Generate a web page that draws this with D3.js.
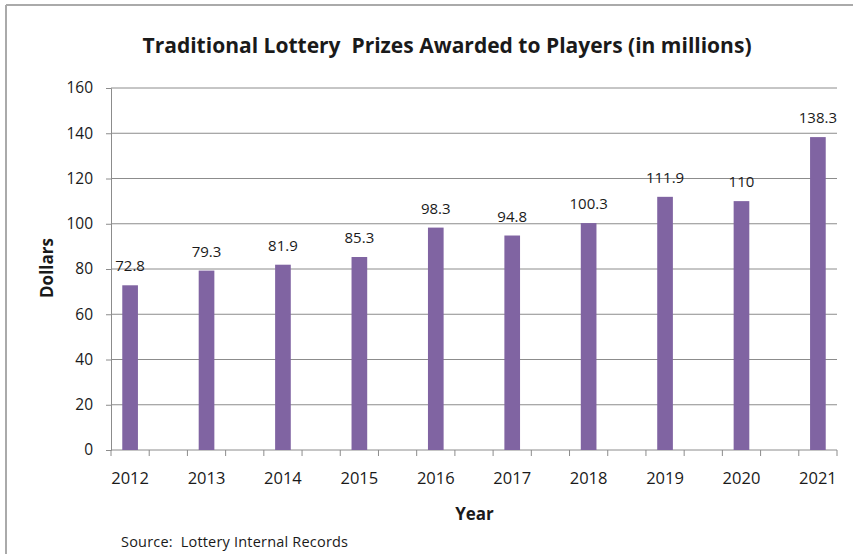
<!DOCTYPE html>
<html>
<head>
<meta charset="utf-8">
<script src="https://cdn.jsdelivr.net/npm/d3@7"></script>
<style>
  html, body { margin: 0; padding: 0; background: #fff; }
  svg { display: block; }
  text { font-family: "Open Sans", sans-serif; fill: #1a1a1a; white-space: pre; }
</style>
</head>
<body>
<svg id="chart" width="853" height="554"></svg>
<script>
// Prize totals per year, in millions of dollars
const years = ["2012", "2013", "2014", "2015", "2016", "2017", "2018", "2019", "2020", "2021"];
const prizes = [72.8, 79.3, 81.9, 85.3, 98.3, 94.8, 100.3, 111.9, 110, 138.3];
const valueLabels = ["72.8", "79.3", "81.9", "85.3", "98.3", "94.8", "100.3", "111.9", "110", "138.3"];
const yTicks = [0, 20, 40, 60, 80, 100, 120, 140, 160];

const title = "Traditional Lottery  Prizes Awarded to Players (in millions)";
const yTitle = "Dollars";
const xTitle = "Year";
const source = "Source:  Lottery Internal Records";

const svg = d3.select("#chart");
const W = 853, H = 554;
const plot = { left: 111, right: 837, top: 88, bottom: 450 };

// outer frame (top and left edges visible)
svg.append("line").attr("x1", 6).attr("x2", W).attr("y1", 5).attr("y2", 5)
  .attr("stroke", "#aaaaaa").attr("stroke-width", 2);
svg.append("line").attr("x1", 6).attr("x2", 6).attr("y1", 5).attr("y2", H)
  .attr("stroke", "#aaaaaa").attr("stroke-width", 2);

// each year occupies two slots; the axis ticks mark every slot edge
const slots = d3.range(years.length * 2 - 1);
const x = d3.scaleBand().domain(slots).range([plot.left, plot.right]).paddingInner(0).paddingOuter(0);
const slotOf = i => i * 2;
const y = d3.scaleLinear().domain([0, 160]).range([plot.bottom, plot.top]);

const barW = x.bandwidth() * 0.41;

// horizontal gridlines
svg.append("g").selectAll("line").data(yTicks.filter(t => t > 0)).join("line")
  .attr("x1", plot.left).attr("x2", plot.right)
  .attr("y1", d => y(d)).attr("y2", d => y(d))
  .attr("stroke", "#8c8c8c").attr("stroke-width", 1);

// y axis
const yAxis = svg.append("g").attr("transform", `translate(${plot.left},0)`)
  .call(d3.axisLeft(y).tickValues(yTicks).tickSize(5).tickPadding(13).tickFormat(d3.format("d")));
yAxis.select(".domain").attr("stroke", "#8c8c8c");
yAxis.selectAll(".tick line").attr("stroke", "#8c8c8c");
yAxis.selectAll("text").attr("font-size", 15.5).attr("fill", "#1a1a1a")
  .attr("font-family", "Open Sans, sans-serif");

// x axis: ticks at every slot boundary, labels under the bars
const edges = d3.range(slots.length + 1).map(k => plot.left + k * x.step());
const xg = svg.append("g");
xg.append("line").attr("x1", plot.left).attr("x2", plot.right)
  .attr("y1", plot.bottom).attr("y2", plot.bottom).attr("stroke", "#8c8c8c");
xg.selectAll("line.tk").data(edges).join("line").attr("class", "tk")
  .attr("x1", d => d).attr("x2", d => d)
  .attr("y1", plot.bottom).attr("y2", plot.bottom + 6).attr("stroke", "#8c8c8c");
xg.selectAll("text").data(years).join("text")
  .attr("x", (d, i) => x(slotOf(i)) + x.bandwidth() / 2)
  .attr("y", 484)
  .attr("text-anchor", "middle").attr("font-size", 16.5)
  .text(d => d);

// bars
svg.append("g").selectAll("rect").data(prizes).join("rect")
  .attr("x", (d, i) => x(slotOf(i)) + x.bandwidth() / 2 - barW / 2)
  .attr("width", barW)
  .attr("y", d => y(d))
  .attr("height", d => y(0) - y(d))
  .attr("fill", "#8064a2");

// value labels
svg.append("g").selectAll("text").data(prizes).join("text")
  .attr("x", (d, i) => x(slotOf(i)) + x.bandwidth() / 2)
  .attr("y", d => y(d) - 14)
  .attr("text-anchor", "middle").attr("font-size", 15)
  .text((d, i) => valueLabels[i]);

// titles
svg.append("text").attr("x", 447).attr("y", 53).attr("text-anchor", "middle")
  .attr("font-size", 22).attr("font-weight", "bold")
  .attr("textLength", 609).attr("lengthAdjust", "spacingAndGlyphs")
  .text(title);

svg.append("text").attr("transform", "translate(53,268) rotate(-90)")
  .attr("text-anchor", "middle").attr("font-size", 17).attr("font-weight", "bold")
  .text(yTitle);

svg.append("text").attr("x", 474.5).attr("y", 520).attr("text-anchor", "middle")
  .attr("font-size", 17).attr("font-weight", "bold")
  .text(xTitle);

svg.append("text").attr("x", 121).attr("y", 547)
  .attr("font-size", 14.5)
  .attr("textLength", 227).attr("lengthAdjust", "spacing")
  .text(source);
</script>
</body>
</html>
